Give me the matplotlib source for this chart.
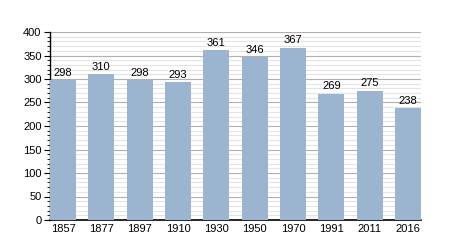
import numpy as np
import matplotlib.pyplot as plt
from matplotlib.ticker import MultipleLocator

plt.rcParams['font.family'] = ['Liberation Sans', 'DejaVu Sans']

# Population per census year
years = ['1857', '1877', '1897', '1910', '1930', '1950', '1970', '1991', '2011', '2016']
population = [298, 310, 298, 293, 361, 346, 367, 269, 275, 238]

fig = plt.figure(figsize=(4.5, 2.5), dpi=100)
ax = fig.add_axes([0.111, 0.12, 0.825, 0.752])

x = np.arange(len(years))
width = 0.68
ax.bar(x, population, width=width, color='#9bb4cf', zorder=3)

for xi, v in zip(x, population):
    ax.text(xi, v + 5, str(v), ha='center', va='bottom', fontsize=8)

ax.set_xlim(-width / 2, len(years) - 1 + width / 2)
ax.set_ylim(0, 400)
ax.yaxis.set_major_locator(MultipleLocator(50))
ax.yaxis.set_minor_locator(MultipleLocator(10))
ax.grid(axis='y', which='major', color='#b0b0b0', linewidth=0.8, zorder=0)
ax.grid(axis='y', which='minor', color='#e4e4e4', linewidth=0.8, zorder=0)

ax.set_xticks(x)
ax.set_xticklabels(years)
ax.tick_params(axis='x', length=0, labelsize=8, pad=3)
ax.tick_params(axis='y', which='major', length=4, labelsize=8, pad=2)
ax.tick_params(axis='y', which='minor', length=2)

for side in ('top', 'right'):
    ax.spines[side].set_visible(False)
ax.spines['left'].set_linewidth(1)
ax.spines['bottom'].set_linewidth(1.2)

fig.savefig('out.png', dpi=100)
